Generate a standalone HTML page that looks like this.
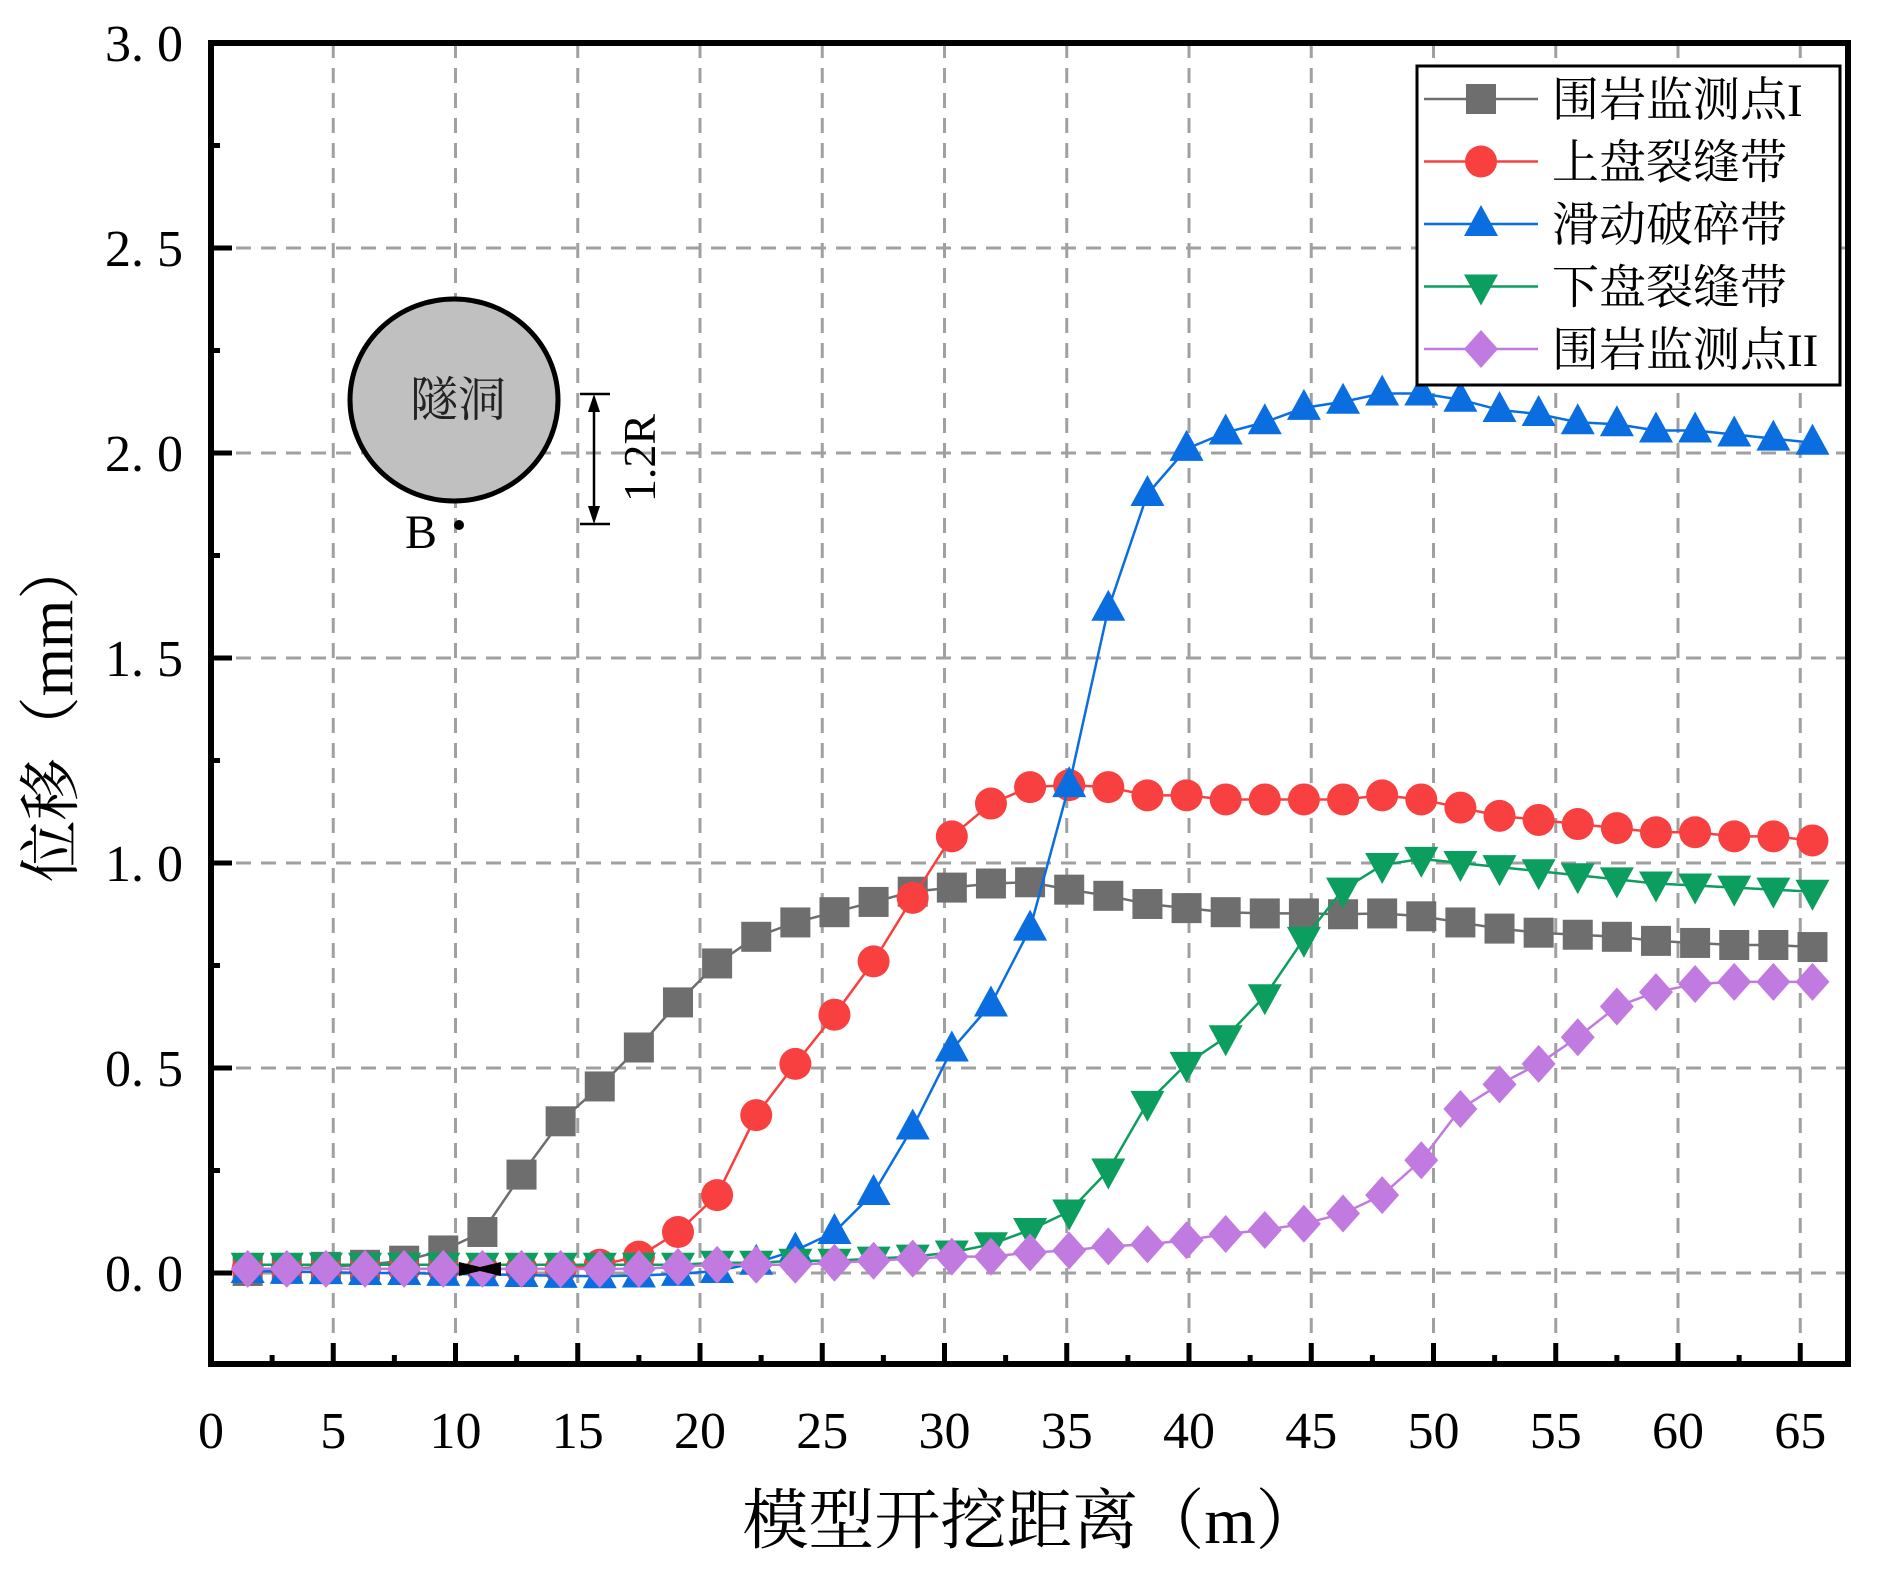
<!DOCTYPE html>
<html><head><meta charset="utf-8"><style>
html,body{margin:0;padding:0;background:#fff}
svg{display:block}
text{font-family:"Liberation Serif","Noto Serif CJK SC",serif}
</style></head><body>
<svg id="chart" width="1877" height="1586" viewBox="0 0 1877 1586" xmlns="http://www.w3.org/2000/svg">
<g id="grid"></g>
<g id="series"></g>
<g id="axes"></g>
<g id="inset">
  <ellipse cx="454" cy="400" rx="104" ry="101" fill="#c0c0c0" stroke="#000" stroke-width="5"/>
  <text x="458" y="416" font-size="48" text-anchor="middle" font-family="'Noto Sans CJK SC',sans-serif" fill="#222">隧洞</text>
  <circle cx="459" cy="525" r="5" fill="#000"/>
  <text x="421" y="548" font-size="48" text-anchor="middle">B</text>
  <line x1="594" y1="400" x2="594" y2="518" stroke="#000" stroke-width="2.5"/>
  <polygon points="594,394 588,412 600,412" fill="#000"/>
  <polygon points="594,524 588,506 600,506" fill="#000"/>
  <line x1="580" y1="394" x2="610" y2="394" stroke="#000" stroke-width="2.5"/>
  <line x1="580" y1="524" x2="610" y2="524" stroke="#000" stroke-width="2.5"/>
  <text x="0" y="0" font-size="46" text-anchor="middle" transform="translate(655,458) rotate(-90)">1.2R</text>
</g>
<g id="legend"></g>
</svg>
<script>
const xs = [1.5,3.1,4.7,6.3,7.9,9.5,11.1,12.7,14.3,15.9,17.5,19.1,20.7,22.3,23.9,25.5,27.1,28.7,30.3,31.9,33.5,35.1,36.7,38.3,39.9,41.5,43.1,44.7,46.3,47.9,49.5,51.1,52.7,54.3,55.9,57.5,59.1,60.7,62.3,63.9,65.5];
const seriesNames = ["围岩监测点I","上盘裂缝带","滑动破碎带","下盘裂缝带","围岩监测点II"];
const sGray = [0.005,0.01,0.015,0.02,0.03,0.055,0.10,0.24,0.37,0.455,0.55,0.66,0.755,0.82,0.855,0.88,0.905,0.93,0.94,0.95,0.953,0.935,0.92,0.90,0.89,0.88,0.877,0.877,0.875,0.877,0.87,0.855,0.84,0.83,0.825,0.82,0.81,0.805,0.80,0.80,0.795];
const sRed = [0.01,0.01,0.01,0.01,0.01,0.01,0.01,0.01,0.01,0.02,0.04,0.10,0.19,0.385,0.51,0.63,0.76,0.915,1.065,1.145,1.185,1.19,1.185,1.165,1.165,1.155,1.155,1.155,1.155,1.165,1.155,1.135,1.115,1.105,1.095,1.085,1.075,1.075,1.065,1.065,1.055];
const sBlue = [0.005,0.003,0.002,0.0,0.0,-0.002,-0.003,-0.005,-0.007,-0.008,-0.006,-0.002,0.005,0.025,0.055,0.10,0.195,0.355,0.545,0.655,0.84,1.19,1.62,1.90,2.01,2.05,2.075,2.11,2.125,2.145,2.145,2.13,2.105,2.095,2.075,2.07,2.055,2.055,2.045,2.035,2.025];
const sGreen = [0.02,0.02,0.02,0.02,0.02,0.02,0.02,0.02,0.02,0.02,0.02,0.02,0.025,0.025,0.03,0.03,0.035,0.04,0.05,0.07,0.105,0.15,0.25,0.415,0.51,0.575,0.675,0.815,0.935,0.995,1.01,1.0,0.99,0.98,0.97,0.96,0.95,0.945,0.94,0.935,0.93];
const sPurple = [0.01,0.01,0.01,0.01,0.01,0.01,0.01,0.01,0.01,0.01,0.01,0.015,0.02,0.02,0.02,0.025,0.03,0.035,0.04,0.04,0.05,0.055,0.065,0.07,0.08,0.095,0.105,0.12,0.145,0.19,0.275,0.40,0.46,0.51,0.575,0.65,0.685,0.705,0.71,0.71,0.71];
const xTicks = [0,5,10,15,20,25,30,35,40,45,50,55,60,65];
const yTicks = [0,0.5,1.0,1.5,2.0,2.5,3.0];
const yTickLabels = ["0. 0","0. 5","1. 0","1. 5","2. 0","2. 5","3. 0"];

const NS="http://www.w3.org/2000/svg";
const L=211,R=1848,T=43,B=1364;
const X0=211,XS=24.45, Y0=1273, YS=410;
const X=v=>X0+v*XS, Y=v=>Y0-v*YS;
function mk(tag,attrs,parent){const e=document.createElementNS(NS,tag);for(const k in attrs)e.setAttribute(k,attrs[k]);parent.appendChild(e);return e;}
const grid=document.getElementById('grid'),axes=document.getElementById('axes'),ser=document.getElementById('series'),leg=document.getElementById('legend');

xTicks.forEach(t=>{
  if(t>0){const g=mk('line',{x1:X(t),x2:X(t),y1:T,y2:B,stroke:'#a0a0a0','stroke-width':3,'stroke-dasharray':'15,10'},grid);
  
  }
  mk('line',{x1:X(t),x2:X(t),y1:B,y2:B-21,stroke:'#000','stroke-width':5},axes);
  if(t<65) mk('line',{x1:X(t+2.5),x2:X(t+2.5),y1:B,y2:B-9,stroke:'#000','stroke-width':5},axes);
  const tx=mk('text',{x:X(t),y:1448,'font-size':52,'text-anchor':'middle'},axes);tx.textContent=t;
  
  
});
yTicks.forEach((t,i)=>{
  if(t<3){const g=mk('line',{x1:L,x2:R,y1:Y(t),y2:Y(t),stroke:'#a0a0a0','stroke-width':3,'stroke-dasharray':'15,10'},grid);
  
  }
  mk('line',{x1:L,x2:L+21,y1:Y(t),y2:Y(t),stroke:'#000','stroke-width':5},axes);
  if(t<3) mk('line',{x1:L,x2:L+9,y1:Y(t+0.25),y2:Y(t+0.25),stroke:'#000','stroke-width':5},axes);
  const tx=mk('text',{x:183,y:Y(t)+18,'font-size':52,'text-anchor':'end'},axes);tx.textContent=yTickLabels[i];
  
  
});
const frame=mk('rect',{x:L,y:T,width:R-L,height:B-T,fill:'none',stroke:'#000','stroke-width':6},axes);


const xt=mk('text',{x:1032,y:1543,'font-size':66,'text-anchor':'middle'},axes);xt.textContent="模型开挖距离（m）";


const yt=mk('text',{x:0,y:0,'font-size':62,'text-anchor':'middle',transform:'translate(72,710) rotate(-90)'},axes);yt.textContent="位移（mm）";



function marker(type,cx,cy,color,parent,s){
  let e;
  if(type==='sq') e=mk('rect',{x:cx-s*15,y:cy-s*15,width:s*30,height:s*30,fill:color},parent);
  else if(type==='ci') e=mk('circle',{cx:cx,cy:cy,r:s*16,fill:color},parent);
  else if(type==='up') e=mk('polygon',{points:`${cx},${cy-s*19} ${cx-s*17},${cy+s*12} ${cx+s*17},${cy+s*12}`,fill:color},parent);
  else if(type==='dn') e=mk('polygon',{points:`${cx},${cy+s*19} ${cx-s*17},${cy-s*12} ${cx+s*17},${cy-s*12}`,fill:color},parent);
  else e=mk('polygon',{points:`${cx},${cy-s*19} ${cx+s*17},${cy} ${cx},${cy+s*19} ${cx-s*17},${cy}`,fill:color},parent);
  return e;
}
const defs=[[sGray,'#6e6e6e','sq'],[sRed,'#f84040','ci'],[sBlue,'#0a6ee0','up'],[sGreen,'#0c9e5e','dn'],[sPurple,'#c07ae0','di']];
leg.appendChild(document.createElementNS(NS,'g'));
const bg=mk('rect',{x:1417,y:66,width:423,height:319,fill:'#fff',stroke:'#000','stroke-width':3},leg);


defs.forEach((d,k)=>{
  const g=mk('g',{},ser);
  
  
  const pts=xs.map((x,i)=>X(x)+','+Y(d[0][i])).join(' ');
  mk('polyline',{points:pts,fill:'none',stroke:d[1],'stroke-width':2.5},g);
  xs.forEach((x,i)=>{
    const m=marker(d[2],X(x),Y(d[0][i]),d[1],g,1);
    
    
  });
  const ly=99+k*62.5;
  const le=mk('g',{},leg);
  
  
  mk('line',{x1:1424,x2:1538,y1:ly,y2:ly,stroke:d[1],'stroke-width':2.5},le);
  marker(d[2],1481,ly,d[1],le,1);
  const t=mk('text',{x:1552,y:ly+17,'font-size':47},le);t.textContent=seriesNames[k];
});
// bowtie marker
const bc=X(11.0), by=Y(0.0)-4;
const bw=mk('polygon',{points:`${bc-21},${by-7} ${bc},${by-2} ${bc+21},${by-7} ${bc+21},${by+7} ${bc},${by+2} ${bc-21},${by+7}`,fill:'#000'},ser);


</script>
</body></html>
